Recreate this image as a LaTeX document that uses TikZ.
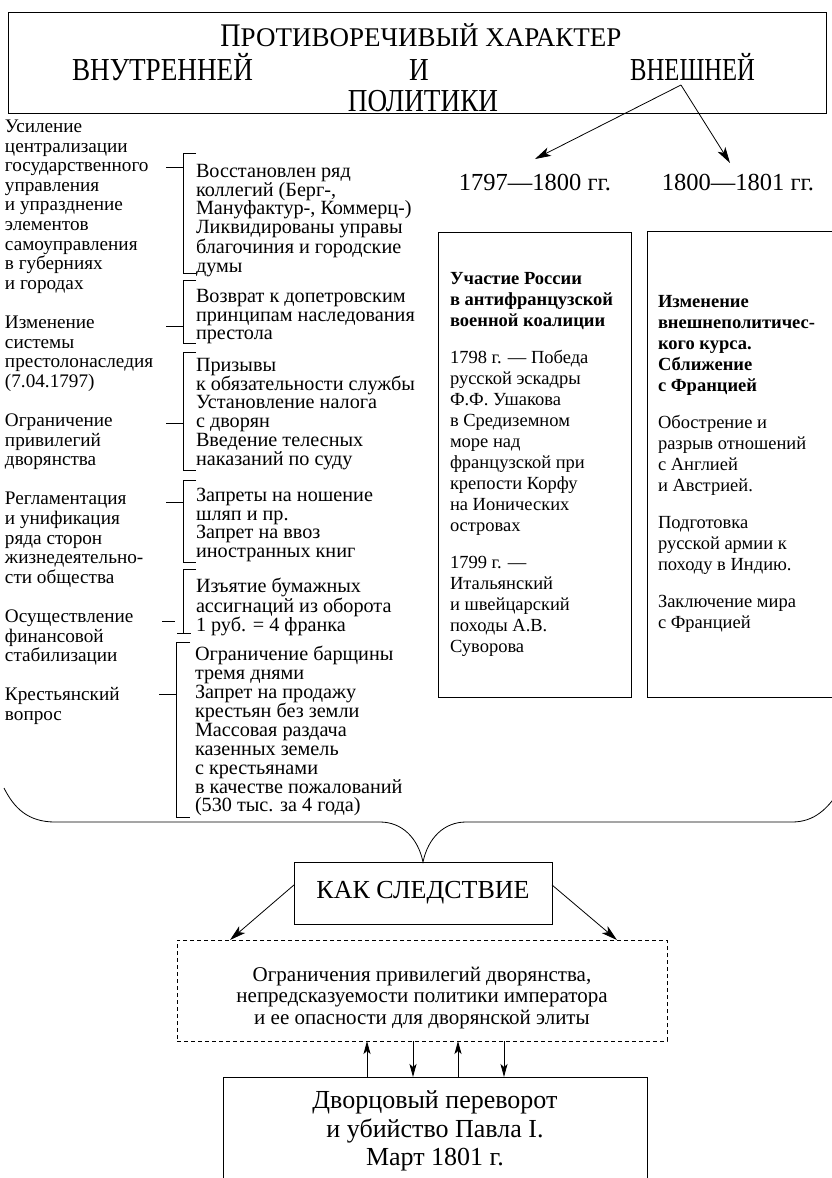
\documentclass[tikz,border=0pt]{standalone}
\usepackage{fontspec}
\setmainfont{Liberation Serif}
\newfontfamily\condfont[FakeStretch=0.85]{Liberation Serif}
\newfontfamily\condfontb[FakeStretch=0.77]{Liberation Serif}
\usetikzlibrary{arrows.meta,calc}
\begin{document}
\begin{tikzpicture}[x=1pt,y=-1pt,
  every node/.style={inner sep=0pt,outer sep=0pt},
  ln/.style={line width=0.8pt},
  frame/.style={draw,line width=0.8pt,anchor=north west},
  titlef/.style={font=\condfont\fontsize{32}{32}\selectfont},
  body/.style={align=left,anchor=north west,font=\fontsize{19.2}{19.6}\selectfont},
  midtxt/.style={align=left,anchor=north west,font=\fontsize{20.2}{18.8}\selectfont},
  boxtxt/.style={align=left,anchor=north west,font=\fontsize{18.5}{21}\selectfont},
  bigarr/.style={line width=0.8pt,-{Stealth[length=16pt,width=9pt,inset=4pt]}},
  smallarr/.style={line width=0.8pt,-{Stealth[length=13pt,width=7pt,inset=3pt]}},
]
\useasboundingbox (0,0) rectangle (832,1178);

% title
\node[frame,minimum width=818pt,minimum height=101pt] (tbox) at (8,12) {};
\node[anchor=base] (t1) at (421,46) {{\condfont\fontsize{33}{33}\selectfont П}\fontsize{27}{27}\selectfont РОТИВОРЕЧИВЫЙ ХАРАКТЕР};
\node[titlef,anchor=base west] (t2a) at (72,80) {ВНУТРЕННЕЙ};
\node[titlef,anchor=base] (t2b) at (419,80) {И};
\node[anchor=base east,font=\condfontb\fontsize{32}{32}\selectfont] (t2c) at (755,80) {ВНЕШНЕЙ};
\node[titlef,anchor=base] (t3) at (423,111) {ПОЛИТИКИ};

% years
\coordinate (apex) at (681,85);
\node[anchor=base,font=\fontsize{24.5}{24.5}\selectfont] (yA) at (535,190) {1797—1800 гг.};
\node[anchor=base,font=\fontsize{24.5}{24.5}\selectfont] (yB) at (738,190) {1800—1801 гг.};
\coordinate (tipA) at (535,159);
\coordinate (tipB) at (730,163);
\draw[bigarr] (apex) -- (tipA);
\draw[bigarr] (apex) -- (tipB);

% right boxes
\node[frame,minimum width=193pt,minimum height=465pt] (boxA) at (438,232) {};
\node[frame,minimum width=220pt,minimum height=466pt] (boxB) at (647,231) {};
\node[boxtxt] (tA) at (450,272) {\textbf{Участие России}\\\textbf{в антифранцузской}\\\textbf{военной коалиции}\\[16pt]1798 г. — Победа\\русской эскадры\\Ф.Ф. Ушакова\\в Средиземном\\море над\\французской при\\крепости Корфу\\на Ионических\\островах\\[16pt]1799 г. —\\Итальянский\\и швейцарский\\походы А.В.\\Суворова};
\node[boxtxt] (tB) at (658,295) {\textbf{Изменение}\\\textbf{внешнеполитичес-}\\\textbf{кого курса.}\\\textbf{Сближение}\\\textbf{с Францией}\\[16pt]Обострение и\\разрыв отношений\\с Англией\\и Австрией.\\[16pt]Подготовка\\русской армии к\\походу в Индию.\\[16pt]Заключение мира\\с Францией};

% left column
\node[body] (lc) at (5,120) {Усиление\\централизации\\государственного\\управления\\и упразднение\\элементов\\самоуправления\\в губерниях\\и городах\\[19.6pt]Изменение\\системы\\престолонаследия\\(7.04.1797)\\[19.6pt]Ограничение\\привилегий\\дворянства\\[19.6pt]Регламентация\\и унификация\\ряда сторон\\жизнедеятельно-\\сти общества\\[19.6pt]Осуществление\\финансовой\\стабилизации\\[19.6pt]Крестьянский\\вопрос};

% middle groups
\node[midtxt] (g1) at (196,164) {Восстановлен ряд\\коллегий (Берг-,\\Мануфактур-, Коммерц-)\\Ликвидированы управы\\благочиния и городские\\думы};
\node[midtxt] (g2) at (196,289) {Возврат к допетровским\\принципам наследования\\престола};
\node[midtxt] (g3) at (196,358) {Призывы\\к обязательности службы\\Установление налога\\с дворян\\Введение телесных\\наказаний по суду};
\node[midtxt] (g4) at (196,488) {Запреты на ношение\\шляп и пр.\\Запрет на ввоз\\иностранных книг};
\node[midtxt] (g5) at (196,578) {Изъятие бумажных\\ассигнаций из оборота\\1 руб. = 4 франка};
\node[midtxt] (g6) at (195,646) {Ограничение барщины\\тремя днями\\Запрет на продажу\\крестьян без земли\\Массовая раздача\\казенных земель\\с крестьянами\\в качестве пожалований\\(530 тыс. за 4 года)};

% brackets and ticks
\draw[ln] (196,153) -- (183,153) -- (183,273) -- (196,273);
\draw[ln] (166,167) -- (183,167);
\draw[ln] (196,280) -- (183,280) -- (183,343) -- (196,343);
\draw[ln] (166,326) -- (183,326);
\draw[ln] (196,352) -- (183,352) -- (183,470) -- (196,470);
\draw[ln] (166,423) -- (183,423);
\draw[ln] (196,480) -- (183,480) -- (183,562) -- (196,562);
\draw[ln] (166,502) -- (183,502);
\draw[ln] (196,569) -- (183,569) -- (183,633);
\draw[ln] (177,633) -- (191,633);
\draw[ln] (162,621) -- (175,621);
\draw[ln] (190,642) -- (176,642) -- (176,817) -- (190,817);
\draw[ln] (159,694) -- (176,694);

% big brace
\draw[ln] (4,788) .. controls (14,808) and (28,822) .. (55,822) -- (380,822) .. controls (402,822) and (418,838) .. (423,862) .. controls (428,838) and (444,822) .. (466,822) -- (792,822) .. controls (815,822) and (828,808) .. (840,790);

% consequence
\node[draw,ln,minimum width=258pt,minimum height=62pt,font=\fontsize{26}{26}\selectfont] (kak) at (423,893) {КАК СЛЕДСТВИЕ};
\node[draw,line width=0.8pt,dash pattern=on 4pt off 3pt,minimum width=490pt,minimum height=101pt] (dbox) at (422,990.5) {};
\node[align=center,font=\fontsize{21}{21.5}\selectfont] (dtxt) at (422,998) {Ограничения привилегий дворянства,\\непредсказуемости политики императора\\и ее опасности для дворянской элиты};
\draw[bigarr] ($(kak.north west)!0.37!(kak.south west)$) -- ($(dbox.north west)+(53,0)$);
\draw[bigarr] ($(kak.north east)!0.37!(kak.south east)$) -- ($(dbox.north west)+(440,0)$);

% final
\node[draw,ln,minimum width=424pt,minimum height=110pt,anchor=north] (final) at (435,1077) {};
\node[align=center,font=\fontsize{26}{28.5}\selectfont] (ftxt) at (435,1131) {Дворцовый переворот\\и убийство Павла I.\\Март 1801 г.};
\coordinate (c1) at (367,0);
\coordinate (c2) at (413,0);
\coordinate (c3) at (458,0);
\coordinate (c4) at (504,0);
\draw[smallarr] (c1 |- final.north) -- (c1 |- dbox.south);
\draw[smallarr] (c2 |- dbox.south) -- (c2 |- final.north);
\draw[smallarr] (c3 |- final.north) -- (c3 |- dbox.south);
\draw[smallarr] (c4 |- dbox.south) -- (c4 |- final.north);
\end{tikzpicture}
\end{document}
